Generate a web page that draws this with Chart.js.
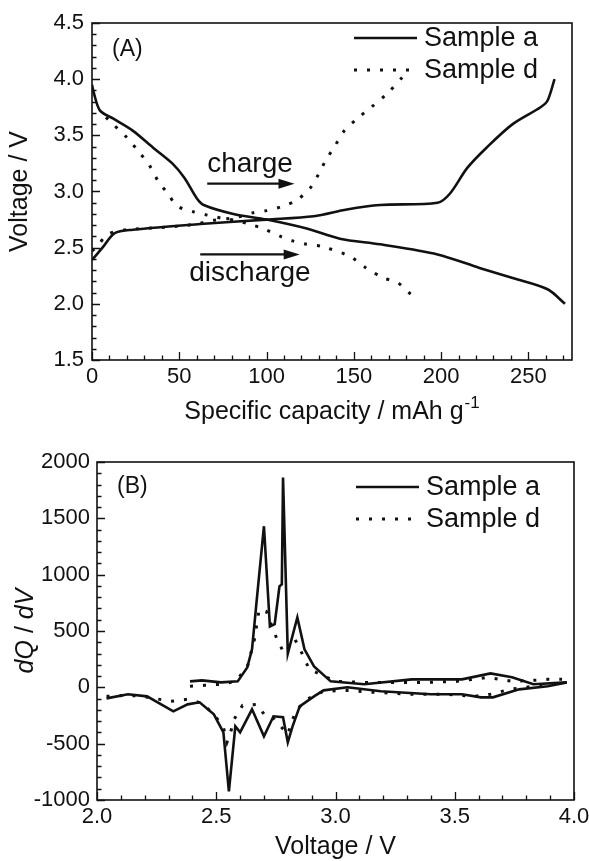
<!DOCTYPE html>
<html lang="en">
<head>
  <meta charset="UTF-8">
  <title>Charge/discharge curves and dQ/dV</title>
  <script src="https://cdn.jsdelivr.net/npm/chart.js"></script>
  <style>
    html, body { margin: 0; padding: 0; background: #fff; }
    canvas { position: absolute; left: 0; }
    #capChart { top: 0; }
    #dqdvChart { top: 430px; }
  </style>
</head>
<body>
  <canvas id="capChart" width="589" height="430"></canvas>
  <canvas id="dqdvChart" width="589" height="431"></canvas>

  <script>
    // (A) voltage vs specific capacity
    const aDisCap = [0, 1, 4.6, 12, 23.5, 35, 46, 53, 60, 64, 81, 100, 123, 142, 165, 198, 222, 241, 261, 271];
    const aDisV   = [3.95, 3.88, 3.72, 3.65, 3.54, 3.39, 3.25, 3.12, 2.94, 2.88, 2.80, 2.75, 2.67, 2.58, 2.53, 2.44, 2.32, 2.23, 2.13, 2.00];
    const aChgCap = [0, 6, 13, 23.5, 62, 100, 127, 146, 165, 198, 205, 215, 226, 241, 257, 261, 265];
    const aChgV   = [2.39, 2.50, 2.63, 2.66, 2.71, 2.75, 2.78, 2.84, 2.88, 2.90, 2.98, 3.21, 3.39, 3.60, 3.75, 3.81, 4.00];
    const dDisCap = [8, 12, 20, 27, 33, 38, 43, 49, 58, 66, 75, 83, 90, 98, 108, 115, 123, 132, 148, 157, 167, 175, 183];
    const dDisV   = [3.66, 3.60, 3.48, 3.35, 3.23, 3.09, 2.99, 2.87, 2.82, 2.79, 2.76, 2.74, 2.71, 2.67, 2.60, 2.56, 2.53, 2.51, 2.42, 2.32, 2.23, 2.19, 2.08];
    const dChgCap = [0, 3, 9, 20, 40, 60, 68, 83, 92, 100, 109.5, 117, 125, 130, 134, 139, 144, 152, 160, 169, 178];
    const dChgV   = [2.47, 2.51, 2.62, 2.66, 2.68, 2.71, 2.74, 2.77, 2.81, 2.83, 2.87, 2.92, 3.03, 3.16, 3.28, 3.40, 3.53, 3.65, 3.75, 3.87, 4.02];

    // (B) dQ/dV vs voltage
    const aUpV  = [2.39, 2.44, 2.52, 2.59, 2.63, 2.65, 2.67, 2.70, 2.725, 2.745, 2.765, 2.775, 2.78, 2.80, 2.84, 2.87, 2.91, 2.98, 3.12, 3.32, 3.53, 3.65, 3.74, 3.83, 3.97];
    const aUpQ  = [53, 62, 44, 53, 177, 337, 780, 1430, 540, 560, 896, 914, 1863, 300, 621, 337, 186, 53, 27, 71, 71, 124, 89, 27, 44];
    const aDnV  = [2.04, 2.13, 2.21, 2.32, 2.38, 2.43, 2.49, 2.53, 2.553, 2.58, 2.60, 2.65, 2.70, 2.74, 2.78, 2.80, 2.82, 2.85, 2.91, 2.95, 3.05, 3.19, 3.40, 3.53, 3.61, 3.66, 3.77, 3.89, 3.97];
    const aDnQ  = [-98, -62, -80, -213, -151, -133, -240, -400, -923, -346, -400, -195, -435, -257, -266, -488, -346, -169, -80, -27, 0, -35, -62, -62, -89, -89, -18, 9, 44];
    const dUpV  = [2.39, 2.45, 2.52, 2.58, 2.63, 2.66, 2.68, 2.71, 2.73, 2.755, 2.785, 2.83, 2.86, 2.89, 3.00, 3.12, 3.26, 3.38, 3.51, 3.64, 3.74, 3.83, 3.89, 3.95];
    const dUpQ  = [9, 18, 27, 53, 177, 426, 692, 674, 560, 426, 300, 426, 300, 160, 53, 44, 44, 44, 53, 89, 53, 62, 71, 71];
    const dDnV  = [2.04, 2.13, 2.19, 2.31, 2.38, 2.44, 2.49, 2.53, 2.545, 2.56, 2.575, 2.61, 2.67, 2.71, 2.74, 2.80, 2.82, 2.84, 2.88, 2.95, 3.05, 3.16, 3.32, 3.47, 3.58, 3.65, 3.73, 3.83, 3.95];
    const dDnQ  = [-80, -71, -80, -124, -106, -142, -240, -355, -488, -400, -284, -160, -151, -266, -275, -417, -284, -195, -106, -35, -27, -44, -62, -62, -80, -62, -18, 9, 44];

    // tick labels
    const capTicks  = [0, 50, 100, 150, 200, 250];
    const voltTicks = [1.5, 2.0, 2.5, 3.0, 3.5, 4.0, 4.5];
    const dvTicks   = [2.0, 2.5, 3.0, 3.5, 4.0];
    const dqdvTicks = [-1000, -500, 0, 500, 1000, 1500, 2000];

    const seriesNames = ['Sample a', 'Sample d'];

    // arrow annotations in (A): [xStart, xEnd, y], label position [x, y]
    const chargeArrow    = [66, 116, 3.07];
    const chargeText     = [90.5, 3.24];
    const dischargeArrow = [62, 119, 2.44];
    const dischargeText  = [90.5, 2.27];

    const INK = '#111';
    const FONT = '"Liberation Sans", Arial, Helvetica, sans-serif';
    const DOTS = [3, 10];

    const pts = (xs, ys) => xs.map((v, i) => ({ x: v, y: ys[i] }));

    function line(xs, ys, dotted, tension) {
      return {
        data: pts(xs, ys),
        borderColor: INK,
        borderWidth: dotted ? 3 : 2.6,
        borderDash: dotted ? DOTS : [],
        pointRadius: 0,
        tension: tension,
        fill: false
      };
    }

    function axis(min, max, ticks, fmt, size, pad, isX) {
      return {
        type: 'linear', min, max,
        afterBuildTicks: s => { s.ticks = ticks.map(v => ({ value: v })); },
        afterFit: s => {
          if (isX) s.height = size; else s.width = size;
          s.paddingLeft = s.paddingRight = s.paddingTop = s.paddingBottom = 0;
        },
        grid: { display: false, drawTicks: false },
        border: { display: false },
        ticks: {
          color: INK, padding: pad, maxRotation: 0, autoSkip: false,
          font: { family: FONT, size: 22 },
          callback: v => fmt(v)
        }
      };
    }

    function drawTicks(ctx, scale, a, from, to, step, majors, horizontal) {
      for (let v = from; v <= to + 1e-9; v += step) {
        const major = majors.some(m => Math.abs(m - v) < 1e-6);
        const len = major ? 8 : 4.5;
        const p = Math.round(scale.getPixelForValue(v)) + 0.5;
        if (horizontal) { ctx.moveTo(p, a.bottom); ctx.lineTo(p, a.bottom - len); }
        else { ctx.moveTo(a.left, p); ctx.lineTo(a.left + len, p); }
      }
    }

    function drawLegend(ctx, x, y, gap) {
      ctx.font = '27px ' + FONT;
      ctx.textAlign = 'left';
      ctx.textBaseline = 'middle';
      ctx.lineWidth = 2.6;
      ctx.setLineDash([]);
      ctx.beginPath(); ctx.moveTo(x, y); ctx.lineTo(x + 63, y); ctx.stroke();
      ctx.fillText(seriesNames[0], x + 70, y + 1);
      ctx.lineWidth = 3;
      ctx.setLineDash(DOTS);
      ctx.beginPath(); ctx.moveTo(x, y + gap); ctx.lineTo(x + 63, y + gap); ctx.stroke();
      ctx.setLineDash([]);
      ctx.fillText(seriesNames[1], x + 70, y + gap + 1);
    }

    function framePlugin(cfg) {
      return {
        id: 'frame',
        afterDraw(chart) {
          const { ctx, chartArea: a } = chart;
          const xs = chart.scales.x, ys = chart.scales.y;
          ctx.save();
          ctx.strokeStyle = INK;
          ctx.fillStyle = INK;
          ctx.lineWidth = 1.6;
          ctx.strokeRect(a.left, a.top, a.right - a.left, a.bottom - a.top);
          ctx.lineWidth = 1.3;
          ctx.beginPath();
          drawTicks(ctx, xs, a, cfg.xMinor[0], cfg.xMinor[1], cfg.xMinor[2], cfg.xMajor, true);
          drawTicks(ctx, ys, a, cfg.yMinor[0], cfg.yMinor[1], cfg.yMinor[2], cfg.yMajor, false);
          ctx.stroke();

          // panel letter
          ctx.font = '23px ' + FONT;
          ctx.textAlign = 'left';
          ctx.textBaseline = 'middle';
          ctx.fillText(cfg.letter, a.left + 20, a.top + cfg.letterY);

          drawLegend(ctx, a.right - 218, a.top + cfg.legendY, 32);

          // y title, rotated
          const cy = (a.top + a.bottom) / 2;
          ctx.save();
          ctx.translate(cfg.yTitleX, cy);
          ctx.rotate(-Math.PI / 2);
          ctx.textBaseline = 'middle';
          let x0 = -cfg.yTitle.reduce((w, p) => { ctx.font = p[1] + '25px ' + FONT; return w + ctx.measureText(p[0]).width; }, 0) / 2;
          cfg.yTitle.forEach(p => {
            ctx.font = p[1] + '25px ' + FONT;
            ctx.textAlign = 'left';
            ctx.fillText(p[0], x0, 0);
            x0 += ctx.measureText(p[0]).width;
          });
          ctx.restore();

          // x title with optional superscript
          ctx.textBaseline = 'alphabetic';
          ctx.textAlign = 'left';
          ctx.font = '25px ' + FONT;
          const wMain = ctx.measureText(cfg.xTitle[0]).width;
          ctx.font = '17px ' + FONT;
          const wSup = cfg.xTitle[1] ? ctx.measureText(cfg.xTitle[1]).width + 1 : 0;
          const sx = (a.left + a.right) / 2 - (wMain + wSup) / 2;
          ctx.font = '25px ' + FONT;
          ctx.fillText(cfg.xTitle[0], sx, cfg.xTitleY);
          if (cfg.xTitle[1]) {
            ctx.font = '17px ' + FONT;
            ctx.fillText(cfg.xTitle[1], sx + wMain + 1, cfg.xTitleY - 11);
          }

          if (cfg.extra) cfg.extra(ctx, xs, ys);
          ctx.restore();
        }
      };
    }

    function arrow(ctx, xs, ys, spec) {
      const x1 = xs.getPixelForValue(spec[0]);
      const x2 = xs.getPixelForValue(spec[1]);
      const y = ys.getPixelForValue(spec[2]);
      ctx.lineWidth = 2.2;
      ctx.beginPath(); ctx.moveTo(x1, y); ctx.lineTo(x2 - 12, y); ctx.stroke();
      ctx.beginPath();
      ctx.moveTo(x2, y); ctx.lineTo(x2 - 16, y - 5); ctx.lineTo(x2 - 16, y + 5);
      ctx.closePath(); ctx.fill();
    }

    function label(ctx, xs, ys, text, pos) {
      ctx.font = '28px ' + FONT;
      ctx.textAlign = 'center';
      ctx.textBaseline = 'middle';
      ctx.fillText(text, xs.getPixelForValue(pos[0]), ys.getPixelForValue(pos[1]));
    }

    new Chart(document.getElementById('capChart').getContext('2d'), {
      type: 'line',
      data: {
        datasets: [
          line(aDisCap, aDisV, false, 0.3),
          line(aChgCap, aChgV, false, 0.3),
          line(dDisCap, dDisV, true, 0.3),
          line(dChgCap, dChgV, true, 0.3)
        ]
      },
      options: {
        responsive: false,
        animation: false,
        layout: { padding: { top: 23, right: 17, left: 0, bottom: 0 } },
        plugins: { legend: { display: false }, tooltip: { enabled: false } },
        scales: {
          x: axis(0, 275, capTicks, v => String(v), 70, 4, true),
          y: axis(1.5, 4.5, voltTicks, v => v.toFixed(1), 92, 8, false)
        }
      },
      plugins: [framePlugin({
        letter: '(A)', letterY: 27, legendY: 15,
        xMinor: [0, 270, 10], xMajor: capTicks,
        yMinor: [1.5, 4.5, 0.1], yMajor: voltTicks,
        yTitle: [['Voltage / V', '']], yTitleX: 20,
        xTitle: ['Specific capacity / mAh g', '-1'], xTitleY: 419,
        extra: (ctx, xs, ys) => {
          arrow(ctx, xs, ys, chargeArrow);
          arrow(ctx, xs, ys, dischargeArrow);
          label(ctx, xs, ys, 'charge', chargeText);
          label(ctx, xs, ys, 'discharge', dischargeText);
        }
      })]
    });

    new Chart(document.getElementById('dqdvChart').getContext('2d'), {
      type: 'line',
      data: {
        datasets: [
          line(aUpV, aUpQ, false, 0),
          line(aDnV, aDnQ, false, 0),
          line(dUpV, dUpQ, true, 0),
          line(dDnV, dDnQ, true, 0)
        ]
      },
      options: {
        responsive: false,
        animation: false,
        layout: { padding: { top: 32, right: 15, left: 0, bottom: 0 } },
        plugins: { legend: { display: false }, tooltip: { enabled: false } },
        scales: {
          x: axis(2, 4, dvTicks, v => v.toFixed(1), 61, 4, true),
          y: axis(-1000, 2000, dqdvTicks, v => String(v), 97, 7, false)
        }
      },
      plugins: [framePlugin({
        letter: '(B)', letterY: 25, legendY: 25,
        xMinor: [2, 4, 0.1], xMajor: dvTicks,
        yMinor: [-1000, 2000, 100], yMajor: dqdvTicks,
        yTitle: [['dQ', 'italic '], [' / ', ''], ['dV', 'italic ']], yTitleX: 26,
        xTitle: ['Voltage / V', ''], xTitleY: 424
      })]
    });
  </script>
</body>
</html>
